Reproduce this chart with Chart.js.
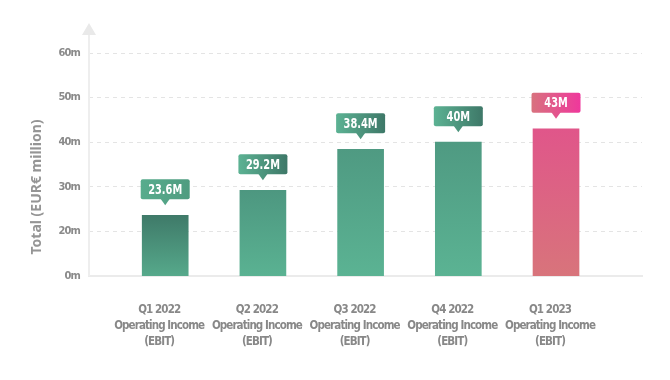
<!DOCTYPE html>
<html>
<head>
<meta charset="utf-8">
<script src="https://cdn.jsdelivr.net/npm/chart.js@4/dist/chart.umd.min.js"></script>
<style>
  html, body { margin: 0; padding: 0; background: #fff; }
  #wrap { width: 670px; height: 380px; position: relative; }
</style>
</head>
<body>
<div id="wrap"><canvas id="ebitChart"></canvas></div>
<script>
// chart values
var categories = [
  ['Q1 2022', 'Operating Income', '(EBIT)'],
  ['Q2 2022', 'Operating Income', '(EBIT)'],
  ['Q3 2022', 'Operating Income', '(EBIT)'],
  ['Q4 2022', 'Operating Income', '(EBIT)'],
  ['Q1 2023', 'Operating Income', '(EBIT)']
];
var incomeValues = [23.6, 29.2, 38.4, 40, 43];
var valueLabels = ['23.6M', '29.2M', '38.4M', '40M', '43M'];
// the axis is broken: its bottom line is labelled 0m
var yTickValues = [10, 20, 30, 40, 50, 60];
var yTickLabels = ['0m', '20m', '30m', '40m', '50m', '60m'];
var axisTitle = 'Total (EUR\u20ac million)';

// colours: [bar top, bar bottom, badge left, badge right]
var barStyles = [
  ['#3f7a69', '#56a98b', '#58ac8d', '#4f9c80'],
  ['#4d9780', '#5ab292', '#5cb293', '#3e7868'],
  ['#4f9a82', '#5bb393', '#5cb293', '#3e7868'],
  ['#4f9a82', '#5bb393', '#5cb293', '#3e7868'],
  ['#e0568a', '#d8747b', '#d8727e', '#ef389c']
];

var condensed = "'DejaVu Sans', sans-serif";

function barGradient(ctx) {
  var chart = ctx.chart;
  if (!chart.chartArea || ctx.dataIndex === undefined) return barStyles[0][1];
  var y = chart.scales.y;
  var st = barStyles[ctx.dataIndex];
  var top = y.getPixelForValue(incomeValues[ctx.dataIndex]);
  var g = chart.ctx.createLinearGradient(0, top, 0, chart.chartArea.bottom);
  g.addColorStop(0, st[0]);
  g.addColorStop(1, st[1]);
  return g;
}

var decorations = {
  id: 'decorations',
  beforeDraw: function(chart) {
    // tighter text for the axis labels
    chart.ctx.letterSpacing = '-0.9px';
  },
  beforeDatasetsDraw: function(chart) {
    var c = chart.ctx, a = chart.chartArea;
    c.save();
    // vertical axis with arrow
    c.strokeStyle = '#eeeeee';
    c.lineWidth = 2;
    c.beginPath();
    c.moveTo(a.left, a.bottom);
    c.lineTo(a.left, a.top - 18);
    c.stroke();
    c.fillStyle = '#e9e9e9';
    c.beginPath();
    c.moveTo(a.left, a.top - 30);
    c.lineTo(a.left - 7, a.top - 18);
    c.lineTo(a.left + 7, a.top - 18);
    c.closePath();
    c.fill();
    c.restore();
  },
  afterDatasetsDraw: function(chart) {
    var c = chart.ctx;
    var meta = chart.getDatasetMeta(0);
    meta.data.forEach(function(bar, i) {
      var st = barStyles[i];
      var w = 49, h = 20;
      var bottom = bar.y - 16;
      var left = bar.x - w / 2;
      c.save();
      var g = c.createLinearGradient(left, 0, left + w, 0);
      g.addColorStop(0, st[2]);
      g.addColorStop(1, st[3]);
      c.fillStyle = g;
      c.beginPath();
      c.roundRect(left, bottom - h, w, h, 2);
      c.fill();
      c.beginPath();
      c.moveTo(bar.x - 5, bottom - 1);
      c.lineTo(bar.x + 5, bottom - 1);
      c.lineTo(bar.x, bottom + 6);
      c.closePath();
      c.fill();
      c.translate(bar.x, bottom - h / 2 + 1);
      c.scale(0.78, 1);
      c.letterSpacing = '0px';
      c.fillStyle = '#ffffff';
      c.font = 'bold condensed 14px ' + condensed;
      c.textAlign = 'center';
      c.textBaseline = 'middle';
      c.fillText(valueLabels[i], 0, 0);
      c.restore();
    });
  },
  afterDraw: function(chart) {
    var c = chart.ctx;
    c.save();
    c.letterSpacing = '0px';
    c.translate(37, 187);
    c.rotate(-Math.PI / 2);
    c.fillStyle = '#959595';
    c.font = "bold 14px 'Noto Sans', sans-serif";
    c.textAlign = 'center';
    c.textBaseline = 'middle';
    c.fillText(axisTitle, 0, 0);
    c.restore();
  }
};

var ctxB = document.getElementById('ebitChart').getContext('2d');
var ebitChart = new Chart(ctxB, {
  type: 'bar',
  data: {
    datasets: [{
      label: 'Operating Income',
      data: incomeValues.map(function(v, i) { return { x: i, y: v }; }),
      backgroundColor: barGradient,
      borderWidth: 0,
      barThickness: 46
    }]
  },
  options: {
    responsive: true,
    maintainAspectRatio: false,
    animation: false,
    layout: { padding: { top: 53, right: 28, bottom: 0, left: 0 } },
    plugins: {
      legend: { display: false },
      tooltip: { enabled: false }
    },
    scales: {
      x: {
        type: 'linear',
        offset: false,
        min: -0.78,
        max: 4.88,
        grid: { display: false, drawTicks: false },
        border: { display: true, color: '#ebebeb', width: 2 },
        afterFit: function(scale) { scale.height = 104; },
        ticks: {
          stepSize: 1,
          autoSkip: false,
          maxRotation: 0,
          padding: 26,
          labelOffset: -6,
          color: '#888888',
          font: { family: condensed, size: 11.5, weight: 'bold condensed', lineHeight: 1.4 },
          callback: function(v) {
            return Number.isInteger(v) && categories[v] ? categories[v] : '';
          }
        }
      },
      y: {
        min: 10,
        max: 60,
        afterFit: function(scale) { scale.width = 89; },
        grid: {
          drawTicks: false,
          lineWidth: 1,
          color: function(ctx) {
            return ctx.tick && ctx.tick.value === 10 ? 'rgba(0,0,0,0)' : '#e4e4e4';
          }
        },
        border: { display: false, dash: [4, 4] },
        ticks: {
          stepSize: 10,
          padding: 9,
          color: '#8a8a8a',
          font: { family: condensed, size: 11, weight: 'bold condensed' },
          callback: function(v) {
            var k = yTickValues.indexOf(v);
            return k >= 0 ? yTickLabels[k] : '';
          }
        }
      }
    }
  },
  plugins: [decorations]
});
</script>
</body>
</html>
